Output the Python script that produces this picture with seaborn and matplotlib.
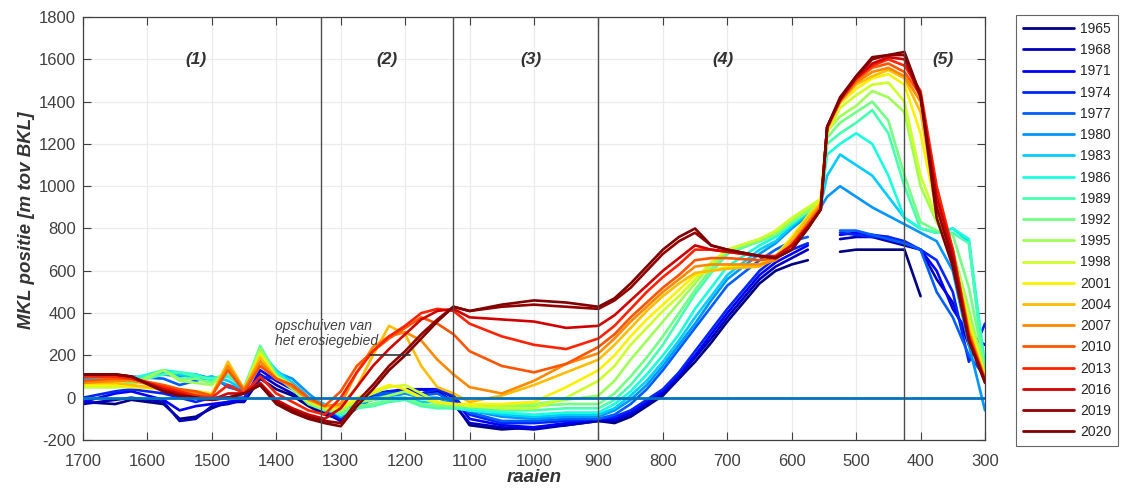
import numpy as np
import pandas as pd
import matplotlib
matplotlib.use("Agg")
import matplotlib.pyplot as plt
import seaborn as sns

nan = np.nan

# raai numbers (x positions along the coast)
RAAIEN = [1700, 1650, 1625, 1575, 1550, 1525, 1500, 1475, 1450, 1425,
          1400, 1375, 1350, 1325, 1300, 1275, 1250, 1225, 1200, 1175,
          1150, 1125, 1100, 1050, 1000, 950, 900, 875, 850, 825,
          800, 775, 750, 725, 700, 650, 625, 600, 575, 555,
          545, 525, 500, 475, 450, 425, 400, 375, 350, 325, 300]

YEARS = [1965, 1968, 1971, 1974, 1977, 1980, 1983, 1986, 1989, 1992,
         1995, 1998, 2001, 2004, 2007, 2010, 2013, 2016, 2019, 2020]

# MKL position [m relative to BKL] per measurement year
mkl_1965 = [-20, -30, -10, -30, -100, -90, -50, -20, -20, 90,
            40, 10, -40, -80, -100, -50, 0, 10, 20, 20,
            30, -20, -130, -150, -140, -130, -110, -120, -90, -40,
            10, 90, 170, 260, 360, 540, 600, 630, 650, nan,
            nan, 690, 700, 700, 700, 700, 480, nan, nan, nan, nan]
mkl_1968 = [-30, -10, 0, -20, -110, -100, -40, -30, -10, 110,
            60, 20, -30, -70, -110, -40, 10, 20, 30, 40,
            30, -30, -120, -140, -150, -130, -110, -110, -80, -30,
            20, 100, 190, 280, 380, 560, 620, 660, 700, nan,
            nan, 750, 760, 760, 740, 720, 700, 560, 450, 250, nan]
mkl_1971 = [-20, 20, 30, -10, -60, -40, -30, -20, -10, 130,
            80, 40, -20, -60, -90, -30, 20, 30, 40, 40,
            40, 0, -100, -130, -140, -120, -100, -100, -70, -20,
            30, 110, 200, 300, 400, 580, 640, 680, 720, nan,
            nan, 770, 780, 770, 760, 730, 700, 600, 420, 300, 250]
mkl_1974 = [0, 30, 40, 20, 0, -20, 0, 0, 0, 100,
            90, 60, -10, -60, -100, -30, 10, 30, 30, 20,
            40, 10, -80, -120, -120, -110, -100, -90, -60, -10,
            40, 120, 220, 320, 420, 600, 660, 700, 730, nan,
            nan, 780, 770, 760, 760, 740, 700, 650, 500, 170, 350]
mkl_1977 = [80, 90, 100, 90, 60, 80, 100, 50, 30, 150,
            110, 70, 0, -50, -90, -20, 20, 20, 20, 10,
            20, -20, -70, -110, -110, -100, -100, -80, -30, 40,
            130, 230, 330, 430, 530, 650, 700, 740, 760, nan,
            nan, 790, 790, 770, 750, 730, 700, 500, 380, 200, 100]
mkl_1980 = [90, 100, 90, 110, 100, 110, 90, 60, 40, 180,
            120, 90, 20, -40, -80, -30, 0, 10, 20, 0,
            0, -30, -60, -90, -100, -90, -90, -60, -10, 60,
            150, 250, 350, 460, 560, 680, 730, 800, 860, 900,
            950, 1000, 950, 900, 860, 820, 780, 740, 600, 250, -60]
mkl_1983 = [100, 90, 80, 120, 110, 90, 100, 80, 40, 220,
            130, 70, 0, -30, -90, -30, -10, 0, 0, -20,
            -20, -40, -60, -80, -90, -80, -80, -50, 10, 80,
            170, 270, 380, 480, 580, 700, 740, 810, 870, 910,
            1050, 1150, 1100, 1050, 950, 850, 800, 780, 800, 740, 100]
mkl_1986 = [80, 80, 90, 130, 120, 110, 80, 100, 50, 230,
            120, 60, -10, -40, -80, -40, -30, -10, 0, -30,
            -40, -50, -60, -70, -80, -70, -70, -30, 30, 110,
            200, 300, 420, 520, 620, 720, 760, 820, 880, 920,
            1150, 1200, 1250, 1200, 1050, 850, 800, 780, 800, 750, 150]
mkl_1989 = [70, 60, 70, 110, 120, 100, 90, 110, 40, 245,
            110, 50, -20, -50, -80, -50, -40, -20, -10, -40,
            -50, -50, -50, -60, -60, -50, -50, -10, 60, 150,
            250, 370, 490, 590, 680, 740, 770, 830, 880, 920,
            1200, 1250, 1300, 1360, 1250, 1000, 800, 780, 780, 730, 100]
mkl_1992 = [60, 60, 70, 130, 90, 90, 70, 130, 40, 240,
            100, 40, -30, -60, -70, -40, -30, -10, 0, -30,
            -40, -40, -40, -40, -40, -30, -30, 20, 100, 190,
            290, 400, 510, 610, 690, 740, 770, 830, 880, 920,
            1230, 1300, 1350, 1400, 1310, 1050, 830, 790, 770, 520, 140]
mkl_1995 = [50, 50, 60, 130, 80, 70, 60, 140, 40, 230,
            100, 50, -20, -50, -60, -20, -10, 10, 30, 0,
            -30, -30, -40, -40, -30, -10, 10, 80, 180, 270,
            360, 450, 540, 630, 700, 750, 780, 840, 890, 930,
            1260, 1330, 1380, 1450, 1420, 1350, 1000, 830, 700, 420, 110]
mkl_1998 = [50, 50, 50, 60, 40, 30, 20, 150, 40, 210,
            100, 50, -20, -50, -50, -10, 20, 50, 60, 20,
            -20, -30, -40, -50, -50, 0, 80, 150, 250, 330,
            410, 480, 560, 640, 700, 750, 790, 850, 900, 940,
            1250, 1370, 1430, 1480, 1490, 1400, 1050, 850, 680, 370, 100]
mkl_2001 = [60, 60, 50, 40, 30, 30, 20, 160, 40, 200,
            100, 60, -10, -40, -50, 0, 30, 60, 40, 0,
            -20, -30, -30, -30, -20, 50, 130, 200, 290, 370,
            440, 510, 580, 600, 620, 630, 670, 760, 860, 930,
            1260, 1390, 1460, 1510, 1530, 1480, 1250, 880, 680, 340, 100]
mkl_2004 = [70, 70, 60, 40, 20, 20, 10, 170, 40, 190,
            90, 60, 0, -40, -40, 50, 200, 340, 300, 150,
            50, 20, -20, 10, 60, 120, 180, 250, 330, 410,
            480, 540, 590, 600, 610, 620, 660, 750, 850, 920,
            1270, 1400, 1480, 1520, 1550, 1510, 1350, 900, 690, 320, 90]
mkl_2007 = [70, 80, 80, 50, 30, 20, 10, 150, 40, 170,
            90, 50, -10, -40, -30, 120, 240, 290, 310, 270,
            180, 110, 50, 20, 80, 160, 210, 280, 360, 430,
            500, 560, 620, 630, 630, 630, 650, 730, 830, 910,
            1270, 1400, 1490, 1540, 1560, 1520, 1400, 920, 690, 310, 90]
mkl_2010 = [80, 90, 90, 60, 40, 30, 10, 130, 30, 150,
            90, 60, 0, -40, 30, 150, 220, 280, 330, 380,
            350, 300, 220, 150, 120, 160, 240, 300, 380, 450,
            520, 580, 650, 660, 660, 650, 660, 720, 820, 900,
            1280, 1400, 1500, 1560, 1580, 1540, 1430, 950, 700, 300, 85]
mkl_2013 = [100, 100, 90, 50, 30, 10, 0, 60, 20, 100,
            20, -20, -60, -80, 0, 120, 220, 290, 340, 400,
            420, 410, 350, 290, 250, 230, 280, 340, 420, 500,
            570, 630, 700, 700, 690, 670, 670, 720, 810, 890,
            1280, 1410, 1510, 1570, 1600, 1570, 1450, 1000, 700, 290, 80]
mkl_2016 = [110, 110, 100, 40, 20, 0, -10, 20, 20, 70,
            -10, -50, -80, -100, -50, 50, 150, 230, 300, 370,
            410, 420, 380, 370, 360, 330, 340, 390, 460, 530,
            600, 660, 720, 700, 690, 670, 665, 720, 810, 890,
            1280, 1410, 1510, 1580, 1610, 1600, 1420, 950, 680, 280, 80]
mkl_2019 = [110, 110, 100, 30, 10, 0, -10, 0, 20, 60,
            -20, -60, -90, -110, -120, -20, 60, 150, 220, 300,
            370, 430, 410, 430, 440, 430, 420, 460, 520, 600,
            680, 740, 780, 720, 700, 670, 660, 700, 800, 890,
            1280, 1410, 1520, 1600, 1620, 1620, 1430, 900, 650, 270, 75]
mkl_2020 = [110, 110, 100, 30, 10, 0, -10, 0, 20, 60,
            -30, -70, -100, -120, -135, -40, 40, 130, 200, 280,
            360, 430, 410, 440, 460, 450, 430, 470, 540, 620,
            700, 760, 800, 720, 700, 670, 660, 700, 800, 890,
            1280, 1420, 1520, 1610, 1620, 1635, 1430, 850, 620, 270, 70]

SERIES = [mkl_1965, mkl_1968, mkl_1971, mkl_1974, mkl_1977, mkl_1980,
          mkl_1983, mkl_1986, mkl_1989, mkl_1992, mkl_1995, mkl_1998,
          mkl_2001, mkl_2004, mkl_2007, mkl_2010, mkl_2013, mkl_2016,
          mkl_2019, mkl_2020]

# coastal section boundaries and their labels
GRENZEN = [1330, 1125, 900, 425]
VAK_LABELS = ["(1)", "(2)", "(3)", "(4)", "(5)"]
VAK_X = [1525, 1228, 1004, 706, 366]

# long-form table; every unbroken stretch of a year gets its own unit id
rows = []
for year, vals in zip(YEARS, SERIES):
    assert len(vals) == len(RAAIEN)
    seg = 0
    for x, v in zip(RAAIEN, vals):
        if np.isnan(v):
            seg += 1
            continue
        rows.append((x, v, str(year), f"{year}-{seg}"))
df = pd.DataFrame(rows, columns=["raai", "mkl", "jaar", "segment"])

jet = plt.get_cmap("jet")
palette = {str(y): jet((y - YEARS[0]) / (YEARS[-1] - YEARS[0])) for y in YEARS}

sns.set_style("white")
plt.rcParams["font.family"] = ["Liberation Sans", "DejaVu Sans"]
plt.rcParams["axes.unicode_minus"] = False

fig = plt.figure(figsize=(11.24, 4.94), dpi=100)
ax = fig.add_axes([83 / 1124, 1 - 440 / 494, (985 - 83) / 1124, (440 - 17) / 494])

sns.lineplot(data=df, x="raai", y="mkl", hue="jaar", units="segment",
             estimator=None, hue_order=[str(y) for y in YEARS],
             palette=palette, linewidth=1.9, ax=ax, legend="full", zorder=2)

ax.axhline(0, color="#0072BD", lw=2.0, zorder=5)
for g in GRENZEN:
    ax.axvline(g, color="#4d4d4d", lw=1.0, zorder=5)
for lab, xv in zip(VAK_LABELS, VAK_X):
    ax.text(xv, 1600, lab, ha="center", va="center", fontsize=12.5,
            fontweight="bold", fontstyle="italic", color="#333333", zorder=6)

ax.text(1402, 303, "opschuiven van\nhet erosiegebied", fontsize=10,
        fontstyle="italic", color="#404040", ha="left", va="center",
        linespacing=1.05, zorder=6)
ax.plot([1255, 1192], [200, 200], color="#333333", lw=1.2, zorder=6)

ax.set_xlim(1700, 300)
ax.set_ylim(-200, 1800)
ax.set_xticks(np.arange(1700, 299, -100))
ax.set_yticks(np.arange(-200, 1801, 200))
ax.grid(True, color="#ebebeb", lw=0.9, zorder=0)
ax.set_axisbelow(True)
ax.tick_params(direction="in", length=6, width=0.8, color="#404040",
               labelcolor="#404040", labelsize=12, top=True, right=True,
               bottom=True, left=True, pad=5)
ax.tick_params(axis="x", pad=10)
for sp in ax.spines.values():
    sp.set_color("#404040")
    sp.set_linewidth(0.9)

ax.set_xlabel("raaien", fontsize=13.5, fontweight="bold", fontstyle="italic",
              color="#333333", labelpad=0)
ax.set_ylabel("MKL positie [m tov BKL]", fontsize=13.5, fontweight="bold",
              fontstyle="italic", color="#333333", labelpad=3, y=0.52)

sns.move_legend(ax, "upper left", bbox_to_anchor=(1016 / 1124, 1 - 15 / 494),
                bbox_transform=fig.transFigure, title=None, frameon=True,
                fancybox=False, fontsize=10, handlelength=3.7,
                labelspacing=0.52, borderpad=0.5, handletextpad=0.4,
                borderaxespad=0)
leg = ax.get_legend()
leg.get_frame().set_edgecolor("#404040")
leg.get_frame().set_linewidth(0.8)
for line in leg.get_lines():
    line.set_linewidth(2.0)

fig.savefig("out.png", dpi=100)
